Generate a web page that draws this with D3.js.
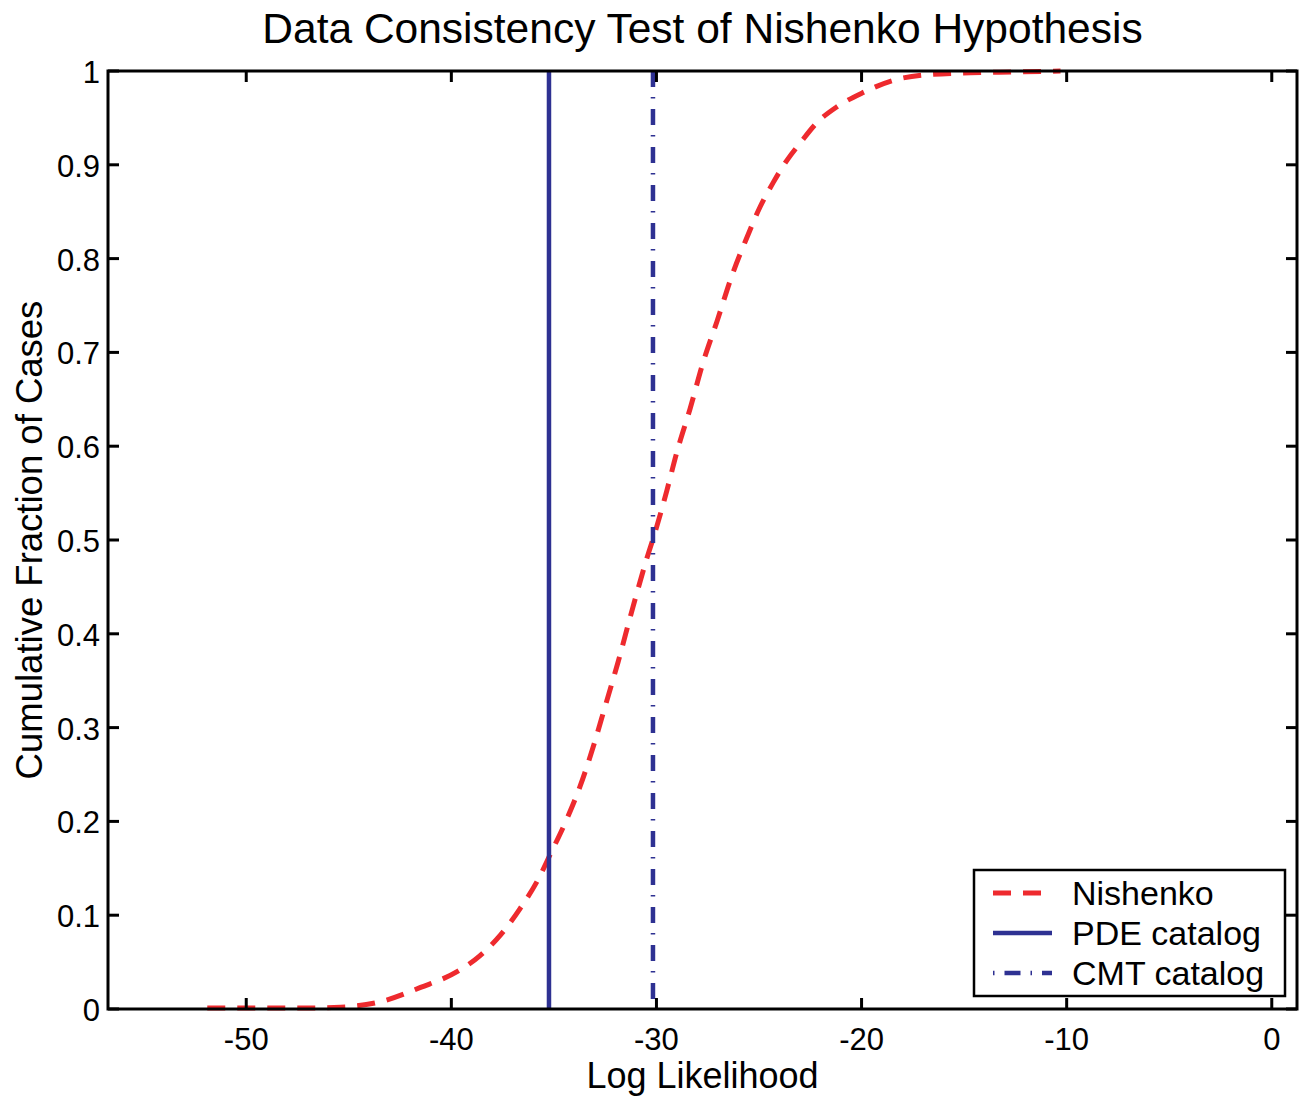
<!DOCTYPE html>
<html lang="en">
<head>
    <meta charset="UTF-8">
    <title>Data Consistency Test of Nishenko Hypothesis</title>
    <script src="https://d3js.org/d3.v7.min.js"></script>
    <style>
        body { margin: 0; background: #fff; }
        text { font-family: "Liberation Sans", Arial, Helvetica, sans-serif; fill: #000; }
    </style>
</head>
<body>
<script>
    // Nishenko cumulative curve
    const logLik = [-51.9, -49.3, -47.4, -45.4, -43.5, -41.5, -39.7, -38.6, -37.6, -36.65, -35.7, -35.24,
                    -34.36, -33.73, -33.09, -32.51, -31.87, -31.19, -30.46, -30.07, -29.49, -29.0, -28.36,
                    -27.73, -27.05, -26.27, -25.58, -24.95, -24.31, -23.63, -23.0, -22.17, -21.19, -19.93,
                    -18.46, -16.8, -14.7, -12.5, -10.3];
    const cumFrac = [0.001, 0.001, 0.001, 0.002, 0.0075, 0.023, 0.040, 0.057, 0.079, 0.107, 0.141, 0.162,
                     0.203, 0.237, 0.279, 0.322, 0.370, 0.425, 0.481, 0.508, 0.553, 0.594, 0.640,
                     0.689, 0.733, 0.785, 0.823, 0.855, 0.881, 0.905, 0.923, 0.945, 0.962, 0.977,
                     0.990, 0.996, 0.998, 0.999, 1.0];
    const pdeLL = -35.24;
    const cmtLL = -30.17;
    const xTicks = [-50, -40, -30, -20, -10, 0];
    const yTicks = [0, 0.1, 0.2, 0.3, 0.4, 0.5, 0.6, 0.7, 0.8, 0.9, 1];
    const legendNames = ["Nishenko", "PDE catalog", "CMT catalog"];

    const width = 1302, height = 1102;
    const margin = {top: 71, right: 5, bottom: 93, left: 108};
    const red = "#ee2a2e", blue = "#2e3192";

    const svg = d3.select("body").append("svg").attr("width", width).attr("height", height);

    const x = d3.scaleLinear().domain([-56.74, 1.23]).range([margin.left, width - margin.right]);
    const y = d3.scaleLinear().domain([0, 1]).range([height - margin.bottom, margin.top]);

    const g = svg.append("g");

    // curve
    const pts = logLik.map((d, i) => [d, cumFrac[i]]);
    const line = d3.line().x(d => x(d[0])).y(d => y(d[1])).curve(d3.curveMonotoneX);
    g.append("path")
        .attr("d", line(pts))
        .attr("fill", "none")
        .attr("stroke", red)
        .attr("stroke-width", 5)
        .attr("stroke-dasharray", "18,12");

    g.append("line")
        .attr("x1", x(pdeLL)).attr("x2", x(pdeLL))
        .attr("y1", y(0)).attr("y2", y(1))
        .attr("stroke", blue).attr("stroke-width", 4.5);

    g.append("line")
        .attr("x1", x(cmtLL)).attr("x2", x(cmtLL))
        .attr("y1", y(1)).attr("y2", y(0))
        .attr("stroke", blue).attr("stroke-width", 4.5)
        .attr("stroke-dasharray", "16,10,1.5,10.5");

    // axes frame with inward ticks on all sides
    const tickLen = 11;
    const ax = svg.append("g").attr("stroke", "#000").attr("stroke-width", 3);
    ax.append("rect")
        .attr("x", margin.left).attr("y", margin.top)
        .attr("width", width - margin.left - margin.right)
        .attr("height", height - margin.top - margin.bottom)
        .attr("fill", "none");

    ax.selectAll(".xtb").data(xTicks).enter().append("line")
        .attr("x1", d => x(d)).attr("x2", d => x(d))
        .attr("y1", y(0)).attr("y2", y(0) - tickLen);
    ax.selectAll(".xtt").data(xTicks).enter().append("line")
        .attr("x1", d => x(d)).attr("x2", d => x(d))
        .attr("y1", y(1)).attr("y2", y(1) + tickLen);
    ax.selectAll(".ytl").data(yTicks).enter().append("line")
        .attr("x1", x.range()[0]).attr("x2", x.range()[0] + tickLen)
        .attr("y1", d => y(d)).attr("y2", d => y(d));
    ax.selectAll(".ytr").data(yTicks).enter().append("line")
        .attr("x1", x.range()[1]).attr("x2", x.range()[1] - tickLen)
        .attr("y1", d => y(d)).attr("y2", d => y(d));

    svg.selectAll(".xl").data(xTicks).enter().append("text")
        .attr("x", d => x(d)).attr("y", y(0) + 41)
        .attr("text-anchor", "middle")
        .style("font-size", "31px")
        .text(d => d);
    svg.selectAll(".yl").data(yTicks).enter().append("text")
        .attr("x", margin.left - 8).attr("y", d => y(d) + 12)
        .attr("text-anchor", "end")
        .style("font-size", "31px")
        .text(d => d);

    svg.append("text")
        .attr("x", (x.range()[0] + x.range()[1]) / 2).attr("y", 43)
        .attr("text-anchor", "middle")
        .style("font-size", "42.5px")
        .text("Data Consistency Test of Nishenko Hypothesis");

    svg.append("text")
        .attr("x", (x.range()[0] + x.range()[1]) / 2).attr("y", 1088)
        .attr("text-anchor", "middle")
        .style("font-size", "36px")
        .text("Log Likelihood");

    svg.append("text")
        .attr("transform", `translate(42,${(y(0) + y(1)) / 2}) rotate(-90)`)
        .attr("text-anchor", "middle")
        .style("font-size", "36.5px")
        .text("Cumulative Fraction of Cases");

    // legend
    const lg = svg.append("g").attr("transform", "translate(974,870)");
    lg.append("rect").attr("width", 311).attr("height", 126)
        .attr("fill", "#fff").attr("stroke", "#000").attr("stroke-width", 2.5);
    const styles = [
        {stroke: red, dash: "18,12", w: 5},
        {stroke: blue, dash: null, w: 4.5},
        {stroke: blue, dash: "1.5,10,16,10,1.5,10,16", w: 4.5}
    ];
    legendNames.forEach((name, i) => {
        const cy = 23 + i * 40;
        lg.append("line")
            .attr("x1", 19).attr("x2", 78).attr("y1", cy).attr("y2", cy)
            .attr("stroke", styles[i].stroke).attr("stroke-width", styles[i].w)
            .attr("stroke-dasharray", styles[i].dash);
        lg.append("text")
            .attr("x", 98).attr("y", cy + 12)
            .style("font-size", "34px")
            .text(name);
    });
</script>
</body>
</html>
